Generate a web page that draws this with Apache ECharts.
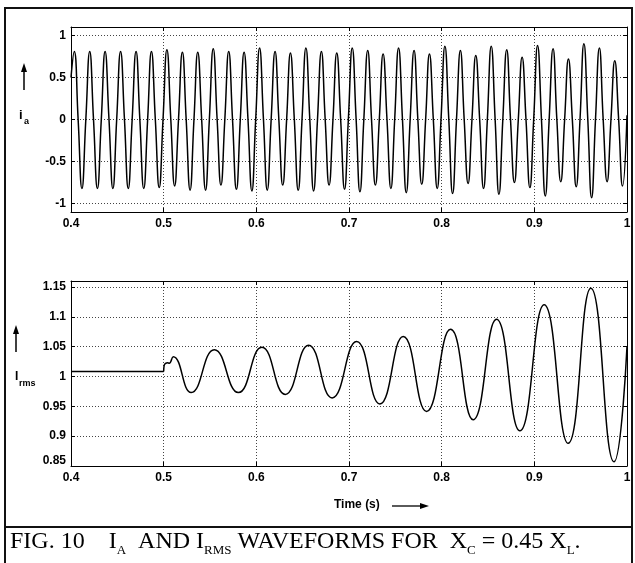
<!DOCTYPE html>
<html>
<head>
<meta charset="utf-8">
<script src="https://cdn.jsdelivr.net/npm/echarts@6/dist/echarts.min.js"></script>
<style>
html,body{margin:0;padding:0;background:#fff;}
#chart{width:635px;height:563px;}
</style>
</head>
<body>
<div id="chart"></div>
<script>
// ---------- data ----------
const xTicks = [0.4, 0.5, 0.6, 0.7, 0.8, 0.9, 1];
const iaTicks = [-1, -0.5, 0, 0.5, 1];
const irmsTicks = [0.85, 0.9, 0.95, 1, 1.05, 1.1, 1.15];

// i_a waveform: peaks, zero crossings, troughs
const iaTimes = [0.4,
0.4035,0.4077,0.4118,0.4160, 0.4202,0.4243,0.4285,0.4327, 0.4368,0.4410,0.4452,0.4493,
0.4535,0.4577,0.4618,0.4660, 0.4702,0.4743,0.4785,0.4827, 0.4868,0.4910,0.4952,0.4993,
0.5035,0.5077,0.5118,0.5160, 0.5202,0.5243,0.5285,0.5327, 0.5368,0.5410,0.5452,0.5493,
0.5535,0.5577,0.5618,0.5660, 0.5702,0.5743,0.5785,0.5827, 0.5868,0.5910,0.5952,0.5993,
0.6035,0.6077,0.6118,0.6160, 0.6202,0.6243,0.6285,0.6327, 0.6368,0.6410,0.6452,0.6493,
0.6535,0.6577,0.6618,0.6660, 0.6702,0.6743,0.6785,0.6827, 0.6868,0.6910,0.6952,0.6993,
0.7035,0.7077,0.7118,0.7160, 0.7202,0.7243,0.7285,0.7327, 0.7368,0.7410,0.7452,0.7493,
0.7535,0.7577,0.7618,0.7660, 0.7702,0.7743,0.7785,0.7827, 0.7868,0.7910,0.7952,0.7993,
0.8035,0.8077,0.8118,0.8160, 0.8202,0.8243,0.8285,0.8327, 0.8368,0.8410,0.8452,0.8493,
0.8535,0.8577,0.8618,0.8660, 0.8702,0.8743,0.8785,0.8827, 0.8868,0.8910,0.8952,0.8993,
0.9035,0.9077,0.9118,0.9160, 0.9202,0.9243,0.9285,0.9327, 0.9368,0.9410,0.9452,0.9493,
0.9535,0.9577,0.9618,0.9660, 0.9702,0.9743,0.9785,0.9827, 0.9868,0.9910,0.9952,1.0];
const iaValues = [0.50,
0.81,0,-0.82,0, 0.81,0,-0.82,0, 0.81,0,-0.82,0,
0.81,0,-0.82,0, 0.81,0,-0.82,0, 0.81,0,-0.81,0,
0.83,0,-0.79,0, 0.80,0,-0.84,0, 0.80,0,-0.84,0,
0.84,0,-0.78,0, 0.81,0,-0.83,0, 0.80,0,-0.85,0,
0.85,0,-0.84,0, 0.81,0,-0.78,0, 0.79,0,-0.84,0,
0.85,0,-0.85,0, 0.81,0,-0.78,0, 0.79,0,-0.83,0,
0.85,0,-0.86,0, 0.82,0,-0.78,0, 0.78,0,-0.82,0,
0.85,0,-0.87,0, 0.82,0,-0.77,0, 0.78,0,-0.82,0,
0.87,0,-0.88,0, 0.82,0,-0.76,0, 0.76,0,-0.82,0,
0.87,0,-0.89,0, 0.83,0,-0.75,0, 0.74,0,-0.81,0,
0.88,0,-0.91,0, 0.84,0,-0.74,0, 0.72,0,-0.80,0,
0.90,0,-0.93,0, 0.85,0,-0.74,0, 0.70,0,-0.79,0.05];

// I_rms: steady part before the event
const irmsFlatTimes = [0.4, 0.5];
const irmsFlatValues = [1.0084, 1.0084];
// I_rms: oscillation after 0.5 s (start ripple, then peaks / troughs)
const irmsTimes = [0.5,0.5005,0.502,0.5045,0.506,0.5103,
0.5297,0.5547,0.5806,0.606,0.6312,0.6564,0.6818,0.7082,0.7333,0.7585,
0.7837,0.8096,0.834,0.8592,0.8844,0.9106,0.9365,0.961,0.986,1.0];
const irmsValues = [1.0084,1.018,1.022,1.023,1.022,1.033,
0.973,1.045,0.973,1.049,0.970,1.0525,0.964,1.0585,0.954,1.067,
0.9415,1.079,0.9276,1.096,0.909,1.12,0.888,1.148,0.857,1.05];

// ---------- chart ----------
const chart = echarts.init(document.getElementById('chart'), null, {renderer: 'canvas'});
const FONT = 'Liberation Sans, Arial, Helvetica, sans-serif';
const SERIF = 'Liberation Serif, Times New Roman, serif';
const lblStyle = {color: '#000', fontSize: 12, fontWeight: 'bold', fontFamily: FONT};
const gridLine = {show: true, lineStyle: {color: '#444', width: 1, type: [1, 2]}};
const axLine = {show: true, onZero: false, lineStyle: {color: '#000', width: 1}};

function xAx(gi, pos, labels) {
  return {
    type: 'value', gridIndex: gi, position: pos, min: 0.4, max: 1, interval: 0.1,
    axisLine: axLine,
    axisTick: {show: true, inside: true, length: 4, lineStyle: {color: '#000'}},
    axisLabel: Object.assign({show: labels, margin: 6, showMinLabel: true, showMaxLabel: true}, lblStyle),
    splitLine: labels ? gridLine : {show: false}
  };
}
function yAx(gi, pos, labels, min, max, ticks, rich) {
  const o = {
    type: 'value', gridIndex: gi, position: pos, min: min, max: max,
    axisLine: axLine,
    axisTick: {show: true, inside: true, length: 4, lineStyle: {color: '#000'}, customValues: ticks},
    axisLabel: Object.assign({show: labels, margin: 5, customValues: ticks}, lblStyle),
    splitLine: labels ? gridLine : {show: false}
  };
  if (rich) {
    o.axisLabel.formatter = rich.formatter;
    o.axisLabel.rich = rich.rich;
  }
  return o;
}
const lowRich = {
  formatter: function (v) {
    const s = String(Math.round(v * 100) / 100);
    return Math.abs(v - 0.85) < 1e-9 ? '{up|' + s + '}' : '{n|' + s + '}';
  },
  rich: {
    n: Object.assign({}, lblStyle),
    up: Object.assign({padding: [0, 0, 10, 0]}, lblStyle)
  }
};

const lineSty = {color: '#000', width: 1.5};

const option = {
  backgroundColor: '#fff',
  animation: false,
  grid: [
    {left: 71, top: 27, width: 556, height: 185},
    {left: 71, top: 281, width: 556, height: 185}
  ],
  xAxis: [xAx(0, 'bottom', true), xAx(0, 'top', false), xAx(1, 'bottom', true), xAx(1, 'top', false)],
  yAxis: [
    yAx(0, 'left', true, -1.1, 1.1, iaTicks),
    yAx(0, 'right', false, -1.1, 1.1, iaTicks),
    yAx(1, 'left', true, 0.85, 1.16, irmsTicks, lowRich),
    yAx(1, 'right', false, 0.85, 1.16, irmsTicks)
  ],
  series: [
    {type: 'line', xAxisIndex: 0, yAxisIndex: 0, showSymbol: false, smooth: true,
     lineStyle: lineSty, data: iaTimes.map((t, i) => [t, iaValues[i]])},
    {type: 'line', xAxisIndex: 2, yAxisIndex: 2, showSymbol: false, smooth: false,
     lineStyle: lineSty, data: irmsFlatTimes.map((t, i) => [t, irmsFlatValues[i]])},
    {type: 'line', xAxisIndex: 2, yAxisIndex: 2, showSymbol: false, smooth: true,
     lineStyle: lineSty, data: irmsTimes.map((t, i) => [t, irmsValues[i]])}
  ],
  graphic: [
    // outer frame and caption separator
    {type: 'rect', shape: {x: 5, y: 8, width: 627, height: 570}, style: {fill: 'none', stroke: '#111', lineWidth: 2}, z: 10},
    {type: 'line', shape: {x1: 5, y1: 527, x2: 632, y2: 527}, style: {stroke: '#111', lineWidth: 2}, z: 10},
    // i_a label with arrow
    {type: 'line', shape: {x1: 24, y1: 90, x2: 24, y2: 70}, style: {stroke: '#000', lineWidth: 1.5}},
    {type: 'polygon', shape: {points: [[24, 63], [21, 72], [27, 72]]}, style: {fill: '#000'}},
    {type: 'text', left: 19, top: 109, style: {text: 'i', fontSize: 13, fontWeight: 'bold', fontFamily: FONT, fill: '#000'}},
    {type: 'text', left: 24, top: 117, style: {text: 'a', fontSize: 9, fontWeight: 'bold', fontFamily: FONT, fill: '#000'}},
    // I_rms label with arrow
    {type: 'line', shape: {x1: 16, y1: 352, x2: 16, y2: 332}, style: {stroke: '#000', lineWidth: 1.5}},
    {type: 'polygon', shape: {points: [[16, 325], [13, 334], [19, 334]]}, style: {fill: '#000'}},
    {type: 'text', left: 15, top: 371, style: {text: 'I', fontSize: 12, fontWeight: 'bold', fontFamily: FONT, fill: '#000'}},
    {type: 'text', left: 19, top: 379, style: {text: 'rms', fontSize: 9, fontWeight: 'bold', fontFamily: FONT, fill: '#000'}},
    // x-axis title
    {type: 'text', left: 334, top: 499, style: {text: 'Time (s)', fontSize: 12, fontWeight: 'bold', fontFamily: FONT, fill: '#000'}},
    {type: 'line', shape: {x1: 392, y1: 506, x2: 422, y2: 506}, style: {stroke: '#000', lineWidth: 1.3}},
    {type: 'polygon', shape: {points: [[429, 506], [420, 503], [420, 509]]}, style: {fill: '#000'}},
    // caption
    {type: 'text', left: 10, top: 530, style: {
      text: '{n|FIG. 10    I}{s|A}{n|  AND I}{s|RMS}{n| WAVEFORMS FOR  X}{s|C}{n| = 0.45 X}{s|L}{n|.}',
      rich: {
        n: {fontSize: 24, fontFamily: SERIF, fill: '#000', lineHeight: 30, verticalAlign: 'middle'},
        s: {fontSize: 13, fontFamily: SERIF, fill: '#000', lineHeight: 17, verticalAlign: 'bottom'}
      }
    }}
  ]
};
chart.setOption(option);
</script>
</body>
</html>
